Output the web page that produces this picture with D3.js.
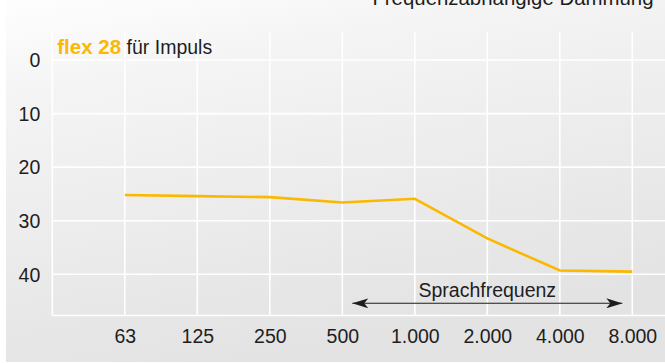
<!DOCTYPE html>
<html>
<head>
<meta charset="utf-8">
<script src="https://cdn.jsdelivr.net/npm/d3@7"></script>
<style>
  html, body { margin: 0; padding: 0; background: #ffffff; }
  svg { display: block; font-family: "Liberation Sans", Arial, Helvetica, sans-serif; }
</style>
</head>
<body>
<svg id="chart" width="665" height="363"></svg>
<script>
// Frequency bands (Hz) and the attenuation of the flex 28 impulse filter (dB)
const frequencies = ["63", "125", "250", "500", "1.000", "2.000", "4.000", "8.000"];
const attenuation = [25.2, 25.4, 25.6, 26.6, 25.9, 33.3, 39.3, 39.5];
const yTicks = [0, 10, 20, 30, 40];
const speechRange = ["500", "8.000"];

const chartTitle = "Frequenzabhängige Dämmung";
const productName = "flex 28";
const productSuffix = " für Impuls";
const speechLabel = "Sprachfrequenz";

const W = 665, H = 363;
const accent = "#fbb800";
const ink = "#1e1e1e";

const svg = d3.select("#chart");
const defs = svg.append("defs");

// soft grey backdrop, lighter towards the top-left
const bg = defs.append("linearGradient")
  .attr("id", "panelGrad")
  .attr("x1", "0").attr("y1", "0").attr("x2", "0.35").attr("y2", "1");
bg.append("stop").attr("offset", "0").attr("stop-color", "#fefefe");
bg.append("stop").attr("offset", "0.25").attr("stop-color", "#f4f4f4");
bg.append("stop").attr("offset", "1").attr("stop-color", "#e3e3e3");

defs.append("marker")
  .attr("id", "arrowHead")
  .attr("viewBox", "0 0 16 10")
  .attr("refX", 16).attr("refY", 5)
  .attr("markerWidth", 16).attr("markerHeight", 10)
  .attr("markerUnits", "userSpaceOnUse")
  .attr("orient", "auto-start-reverse")
  .append("path")
  .attr("d", "M0,0 L16,5 L0,10 L4,5 Z")
  .attr("fill", ink);

svg.append("rect")
  .attr("x", 6).attr("y", 0)
  .attr("width", W - 6).attr("height", 362)
  .attr("fill", "url(#panelGrad)");

// scales
const x = d3.scalePoint()
  .domain(frequencies)
  .range([124.8, 632.3]);
const step = x.step();
const plotLeft = x(frequencies[0]) - step;

const y = d3.scaleLinear()
  .domain([0, 40])
  .range([60, 274.3]);
const plotTop = y(-5.2);
const plotBottom = y(47.7);

// grid
const grid = svg.append("g").attr("stroke", "#ffffff").attr("stroke-width", 1.6);
grid.selectAll("line.v")
  .data([plotLeft, ...frequencies.map(f => x(f))])
  .join("line")
  .attr("class", "v")
  .attr("x1", d => d).attr("x2", d => d)
  .attr("y1", plotTop).attr("y2", plotBottom);
grid.selectAll("line.h")
  .data([...yTicks.map(t => y(t)), plotBottom])
  .join("line")
  .attr("class", "h")
  .attr("x1", plotLeft).attr("x2", W)
  .attr("y1", d => d).attr("y2", d => d);

// y axis labels
const yAxis = svg.append("g")
  .attr("transform", `translate(${plotLeft - 12},0)`)
  .call(d3.axisLeft(y).tickValues(yTicks).tickSize(0).tickPadding(0).tickFormat(d3.format("d")));
yAxis.select(".domain").remove();
yAxis.selectAll("text")
  .attr("x", 0)
  .attr("dy", "0.35em")
  .attr("fill", ink)
  .style("font-size", "19.5px")
  .style("font-family", "'Liberation Sans', Arial, sans-serif");

// x axis labels
const xAxis = svg.append("g")
  .attr("transform", `translate(0,${plotBottom})`)
  .call(d3.axisBottom(x).tickSize(0).tickPadding(0));
xAxis.select(".domain").remove();
xAxis.selectAll("text")
  .attr("y", 27)
  .attr("dy", 0)
  .attr("fill", ink)
  .style("font-size", "19.5px")
  .style("font-family", "'Liberation Sans', Arial, sans-serif");

// attenuation curve
const line = d3.line()
  .x((d, i) => x(frequencies[i]))
  .y(d => y(d));
svg.append("path")
  .datum(attenuation)
  .attr("d", line)
  .attr("fill", "none")
  .attr("stroke", accent)
  .attr("stroke-width", 2.6)
  .attr("stroke-linejoin", "miter");

// speech frequency range
const inset = 10;
const ay = 303.3;
svg.append("line")
  .attr("x1", x(speechRange[0]) + inset)
  .attr("x2", x(speechRange[1]) - inset)
  .attr("y1", ay).attr("y2", ay)
  .attr("stroke", ink)
  .attr("stroke-width", 1.1)
  .attr("marker-start", "url(#arrowHead)")
  .attr("marker-end", "url(#arrowHead)");
svg.append("text")
  .attr("x", x("2.000"))
  .attr("y", 297)
  .attr("text-anchor", "middle")
  .attr("fill", ink)
  .style("font-size", "19.5px")
  .text(speechLabel);

// headings
svg.append("text")
  .attr("x", 653.5)
  .attr("y", 4.5)
  .attr("text-anchor", "end")
  .attr("fill", ink)
  .style("font-size", "20.4px")
  .text(chartTitle);

const label = svg.append("text")
  .attr("x", 57.3)
  .attr("y", 54)
  .attr("fill", ink)
  .style("font-size", "19.5px");
label.append("tspan")
  .attr("fill", accent)
  .style("font-weight", "bold")
  .style("font-size", "20.5px")
  .text(productName);
label.append("tspan")
  .text(productSuffix);
</script>
</body>
</html>
